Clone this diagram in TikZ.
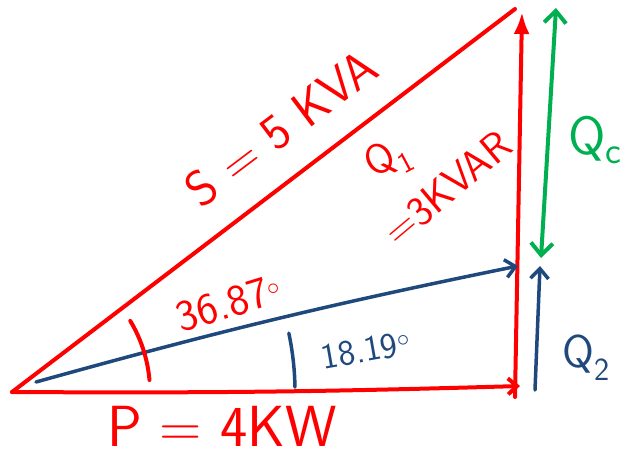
\documentclass[tikz,border=0pt]{standalone}
\usetikzlibrary{arrows.meta}
\definecolor{penred}{RGB}{255,0,0}
\definecolor{penblue}{RGB}{31,73,125}
\definecolor{pengreen}{RGB}{0,176,80}
\begin{document}
\begin{tikzpicture}[x=1pt,y=-1pt,line cap=round,line join=round,
    redpen/.style={line width=4pt,penred},
    bluepen/.style={line width=3.5pt,penblue},
    greenpen/.style={line width=4pt,pengreen},
    redtxt/.style={penred,font=\sffamily\fontsize{48}{50}\selectfont,inner sep=0pt},
    bluetxt/.style={penblue,font=\sffamily\fontsize{46}{48}\selectfont,inner sep=0pt},
    greentxt/.style={pengreen,font=\sffamily\fontsize{54}{56}\selectfont,inner sep=0pt}]
    \useasboundingbox (0,0) rectangle (629,464);
    % vertici
    \coordinate (O) at (12,392);
    \coordinate (Pend) at (520,386);
    \coordinate (Qbot) at (515,397);
    \coordinate (Qtop) at (522,12);
    \coordinate (Stop) at (515,9);
    \coordinate (Bstart) at (36,382);
    \coordinate (Bend) at (518,266);
    \coordinate (Q2bot) at (535,390);
    \coordinate (Q2top) at (540,266);
    \coordinate (Qcbot) at (541,258);
    \coordinate (Qctop) at (556,8);

    % triangolo iniziale
    \draw[redpen] (O) -- (Stop);
    \draw[redpen,-{Straight Barb[length=9pt,width=16pt]}] (O) to[bend right=1] (Pend);
    \draw[redpen,-{Latex[length=22pt,width=16pt]}] (Qbot) -- (Qtop);
    % triangolo corretto
    \draw[bluepen,-{Straight Barb[length=10pt,width=18pt]}] (Bstart) to[bend left=2] (Bend);
    \draw[bluepen,-{Straight Barb[length=10pt,width=18pt]}] (Q2bot) -- (Q2top);
    % condensatore
    \draw[greenpen,{Straight Barb[length=12pt,width=22pt]}-{Straight Barb[length=12pt,width=22pt]}] (Qcbot) -- (Qctop);

    % angoli
    \draw[redpen] (O) ++(-5:138) arc[start angle=-5,end angle=-31,radius=138];
    \draw[bluepen] (O) ++(-1:283) arc[start angle=-1,end angle=-12,radius=283];

    % etichette
    \node[redtxt,rotate=37,font=\sffamily\fontsize{50}{52}\selectfont] (slbl) at (281,128) {S = 5 KVA};
    \node[redtxt,rotate=28,font=\sffamily\fontsize{42}{44}\selectfont] (q1lbl) at (388,160) {Q\textsubscript{1}};
    \node[redtxt,rotate=40,font=\sffamily\fontsize{42}{44}\selectfont] (q1val) at (447,188) {=3KVAR};
    \node[redtxt,rotate=17,font=\sffamily\fontsize{44}{46}\selectfont] (alfa) at (229,303) {36.87$^\circ$};
    \node[bluetxt,rotate=10,font=\sffamily\fontsize{36}{38}\selectfont] (beta) at (366,350) {18.19$^\circ$};
    \node[redtxt,font=\sffamily\fontsize{58}{60}\selectfont] (plbl) at (222,426) {P = 4KW};
    \node[bluetxt] (q2lbl) at (586,358) {Q\textsubscript{2}};
    \node[greentxt] (qclbl) at (595,140) {Q\textsubscript{c}};
\end{tikzpicture}
\end{document}
